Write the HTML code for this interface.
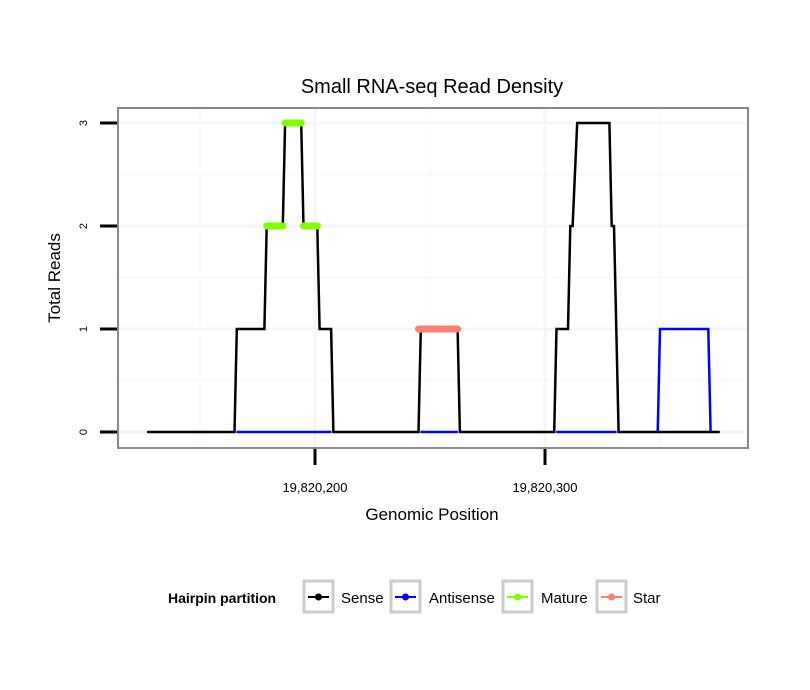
<!DOCTYPE html>
<html><head><meta charset="utf-8"><style>
body{margin:0;background:#fff;font-family:"Liberation Sans",sans-serif;}
svg{display:block}
</style></head><body>
<svg id="chart" width="810" height="690" xmlns="http://www.w3.org/2000/svg">
<rect width="810" height="690" fill="#fff"/>
<text x="432" y="93" text-anchor="middle" font-size="20">Small RNA-seq Read Density</text>
<g id="grid"></g>
<g id="series"></g>
<rect x="118" y="108" width="630" height="340" fill="none" stroke="#888" stroke-width="2"/>
<g id="axes"></g>
<text x="432" y="520" text-anchor="middle" font-size="17">Genomic Position</text>
<text transform="translate(60,278) rotate(-90)" text-anchor="middle" font-size="17">Total Reads</text>
<g>
<text x="168" y="603" font-size="14" font-weight="bold">Hairpin partition</text>
<g><rect x="304" y="581" width="29" height="31" fill="#fff" stroke="#ccc" stroke-width="3"/><line x1="308" y1="597" x2="329" y2="597" stroke="#000" stroke-width="2"/><circle cx="318.5" cy="597" r="3.5" fill="#000"/><text x="341" y="603" font-size="15">Sense</text></g>
<g><rect x="391" y="581" width="29" height="31" fill="#fff" stroke="#ccc" stroke-width="3"/><line x1="395" y1="597" x2="416" y2="597" stroke="#00f" stroke-width="2"/><circle cx="405.5" cy="597" r="3.5" fill="#00f"/><text x="429" y="603" font-size="15">Antisense</text></g>
<g><rect x="503" y="581" width="29" height="31" fill="#fff" stroke="#ccc" stroke-width="3"/><line x1="507" y1="597" x2="528" y2="597" stroke="#7fff00" stroke-width="2"/><circle cx="517.5" cy="597" r="3.5" fill="#7fff00"/><text x="541" y="603" font-size="15">Mature</text></g>
<g><rect x="597" y="581" width="29" height="31" fill="#fff" stroke="#ccc" stroke-width="3"/><line x1="601" y1="597" x2="622" y2="597" stroke="#fa8072" stroke-width="2"/><circle cx="611.5" cy="597" r="3.5" fill="#fa8072"/><text x="633" y="603" font-size="15">Star</text></g>
</g>
</svg>
<script>
const base = 19820200;
const senseOffsets = [-73,-35,-34,-22,-21,-14,-13,-6,-5,1,2,7,8,45,46,62,63,104,105,110,111,112,114,128,129,130,132,176];
const senseValues  = [0,0,1,1,2,2,3,3,2,2,1,1,0,0,1,1,0,0,1,1,2,2,3,3,2,2,0,0];
const antisenseSegOffsets = [[-35,8],[45,63],[104,132]];
const antisenseBumpOffsets = [149,150,171,172];
const antisenseBumpValues = [0,1,1,0];
const matureSegments = [[-21,-14,2],[-13,-6,3],[-5,1,2]];
const starSegments = [[45,62,1]];
const xTicks = [19820200, 19820300];
const xTickLabels = ["19,820,200","19,820,300"];
const yTicks = [0,1,2,3];
const xMinor = [19820150, 19820250, 19820350];
const yMinor = [0.5,1.5,2.5];

const NS="http://www.w3.org/2000/svg";
const X = p => 315 + (p - base) * 2.3;
const Y = v => 432 - v * 103;
function mk(tag, attrs, parent){const e=document.createElementNS(NS,tag);for(const k in attrs)e.setAttribute(k,attrs[k]);parent.appendChild(e);return e;}
const grid=document.getElementById('grid'), series=document.getElementById('series'), axes=document.getElementById('axes');
yMinor.forEach(v=>{const l=mk('line',{x1:118,x2:748,y1:Y(v),y2:Y(v),stroke:'#fafafa','stroke-width':2},grid);

});
xMinor.forEach(p=>{const l=mk('line',{x1:X(p),x2:X(p),y1:108,y2:448,stroke:'#fafafa','stroke-width':2},grid);

});
yTicks.forEach(v=>{const l=mk('line',{x1:118,x2:748,y1:Y(v),y2:Y(v),stroke:'#f6f6f6','stroke-width':3},grid);

});
xTicks.forEach(p=>{const l=mk('line',{x1:X(p),x2:X(p),y1:108,y2:448,stroke:'#f6f6f6','stroke-width':3},grid);

});

const sp=mk('polyline',{points:senseOffsets.map((o,i)=>X(base+o)+','+Y(senseValues[i])).join(' '),fill:'none',stroke:'#000','stroke-width':2.5},series);


antisenseSegOffsets.forEach(s=>{const l=mk('line',{x1:X(base+s[0])+2,x2:X(base+s[1])-2,y1:Y(0),y2:Y(0),stroke:'#00f','stroke-width':2.5},series);

});
const ap=mk('polyline',{points:antisenseBumpOffsets.map((o,i)=>X(base+o)+','+Y(antisenseBumpValues[i])).join(' '),fill:'none',stroke:'#00f','stroke-width':2.5},series);


matureSegments.forEach(s=>{const l=mk('line',{x1:X(base+s[0]),x2:X(base+s[1]),y1:Y(s[2]),y2:Y(s[2]),stroke:'#7fff00','stroke-width':7,'stroke-linecap':'round'},series);

});
starSegments.forEach(s=>{const l=mk('line',{x1:X(base+s[0]),x2:X(base+s[1]),y1:Y(s[2]),y2:Y(s[2]),stroke:'#fa8072','stroke-width':7,'stroke-linecap':'round'},series);

});

yTicks.forEach(v=>{const t=mk('line',{x1:100,x2:117,y1:Y(v),y2:Y(v),stroke:'#000','stroke-width':3},axes);


const tx=mk('text',{transform:`translate(87,${Y(v)}) rotate(-90)`,'text-anchor':'middle','font-size':11},axes);tx.textContent=v;

});
xTicks.forEach((p,i)=>{const t=mk('line',{x1:X(p),x2:X(p),y1:449,y2:465,stroke:'#000','stroke-width':3},axes);


const tx=mk('text',{x:X(p),y:492,'text-anchor':'middle','font-size':13},axes);tx.textContent=xTickLabels[i];

});
</script>
</body></html>
